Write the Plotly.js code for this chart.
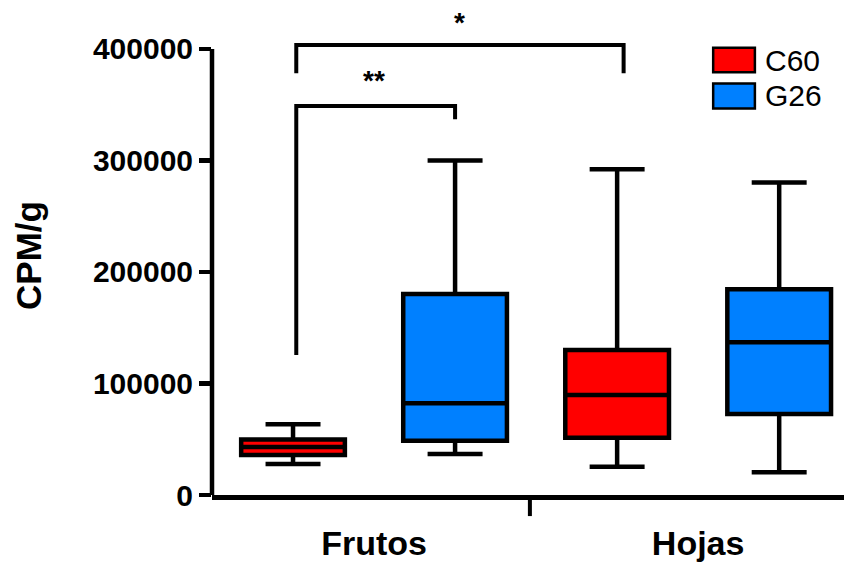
<!DOCTYPE html>
<html><head><meta charset="utf-8">
<script src="https://cdn.plot.ly/plotly-3.0.1.min.js"></script>
<style>html,body{margin:0;padding:0;background:#fff;} #chart{width:844px;height:564px;}</style>
</head><body><div id="chart"></div>
<script>
const categories = ['Frutos', 'Hojas'];
const seriesNames = ['C60', 'G26'];
const seriesColors = ['#FF0000', '#0080FF'];
const c60Lower = [27800, 25400];
const c60Q1 = [35900, 51400];
const c60Median = [43000, 89700];
const c60Q3 = [49800, 130000];
const c60Upper = [63400, 292100];
const g26Lower = [36800, 20400];
const g26Q1 = [48700, 72600];
const g26Median = [82200, 136900];
const g26Q3 = [180300, 184500];
const g26Upper = [300000, 280100];
const yTickVals = [0, 100000, 200000, 300000, 400000];
const yTickText = ['0', '100000', '200000', '300000', '400000'];
const sigLabels = ['**', '*'];

const FONT = 'Liberation Sans, Arial, Helvetica, sans-serif';

function boxTrace(name, color, lf, q1, med, q3, uf) {
  return {
    type: 'box', name: name, x: categories,
    lowerfence: lf, q1: q1, median: med, q3: q3, upperfence: uf,
    fillcolor: color, line: {color: '#000', width: 4.5},
    whiskerwidth: 0.53, boxpoints: false, hoverinfo: 'skip', showlegend: false
  };
}

const traces = [
  boxTrace(seriesNames[0], seriesColors[0], c60Lower, c60Q1, c60Median, c60Q3, c60Upper),
  boxTrace(seriesNames[1], seriesColors[1], g26Lower, g26Q1, g26Median, g26Q3, g26Upper)
];

const blk = {color: '#000', width: 4};
const shapes = [
  {type: 'line', xref: 'paper', yref: 'y', x0: 0, x1: 0, y0: 0, y1: yTickVals[yTickVals.length - 1], line: {color: '#000', width: 4.5}},
  {type: 'line', xref: 'paper', yref: 'paper', x0: 0.503, x1: 0.503, y0: -0.004, y1: -0.044, line: {color: '#000', width: 4}},
  {type: 'path', xref: 'x', yref: 'y', path: 'M -0.24,125600 L -0.24,348900 L 0.25,348900 L 0.25,337000', line: blk},
  {type: 'path', xref: 'x', yref: 'y', path: 'M -0.24,378200 L -0.24,403600 L 0.77,403600 L 0.77,378200', line: blk},
  {type: 'rect', xref: 'paper', yref: 'paper', x0: 0.793, x1: 0.859, y0: 0.8826, y1: 0.9336, fillcolor: seriesColors[0], line: {color: '#000', width: 2.5}},
  {type: 'rect', xref: 'paper', yref: 'paper', x0: 0.793, x1: 0.859, y0: 0.8069, y1: 0.8591, fillcolor: seriesColors[1], line: {color: '#000', width: 2.5}}
];

const annotations = [
  {xref: 'x', yref: 'y', x: 0, y: 372000, text: sigLabels[0], showarrow: false, xanchor: 'center', yanchor: 'middle', font: {family: FONT, size: 28, color: '#000', weight: 'bold'}},
  {xref: 'x', yref: 'y', x: 0.265, y: 423500, text: sigLabels[1], showarrow: false, xanchor: 'center', yanchor: 'middle', font: {family: FONT, size: 28, color: '#000', weight: 'bold'}},
  {xref: 'paper', yref: 'paper', x: 0.872, y: 0.908, text: seriesNames[0], showarrow: false, xanchor: 'left', yanchor: 'middle', font: {family: FONT, size: 30, color: '#000'}},
  {xref: 'paper', yref: 'paper', x: 0.872, y: 0.833, text: seriesNames[1], showarrow: false, xanchor: 'left', yanchor: 'middle', font: {family: FONT, size: 30, color: '#000'}}
];

const layout = {
  width: 844, height: 564, autosize: false,
  margin: {l: 212, r: 0, t: 16, b: 69, pad: 0},
  paper_bgcolor: '#fff', plot_bgcolor: '#fff',
  boxmode: 'group', boxgap: 0, boxgroupgap: 0.36,
  showlegend: false,
  font: {family: FONT, color: '#000'},
  xaxis: {
    type: 'category', categoryorder: 'array', categoryarray: categories,
    range: [-0.5, 1.45], showline: true, linewidth: 4.5, linecolor: '#000',
    ticks: '', showgrid: false, zeroline: false,
    tickfont: {family: FONT, size: 34, weight: 'bold', color: '#000'},
    ticklabelstandoff: 15
  },
  yaxis: {
    range: [0, 429500], tickmode: 'array', tickvals: yTickVals, ticktext: yTickText,
    ticks: 'outside', ticklen: 12, tickwidth: 4.5, tickcolor: '#000',
    showline: false, showgrid: false, zeroline: false,
    tickfont: {family: FONT, size: 30, weight: 'bold', color: '#000'},
    title: {text: 'CPM/g\u00a0\u00a0', font: {family: FONT, size: 35, weight: 'bold', color: '#000'}, standoff: 40},
    automargin: false
  },
  shapes: shapes,
  annotations: annotations
};

Plotly.newPlot('chart', traces, layout, {staticPlot: true, displayModeBar: false});
</script>
</body></html>
